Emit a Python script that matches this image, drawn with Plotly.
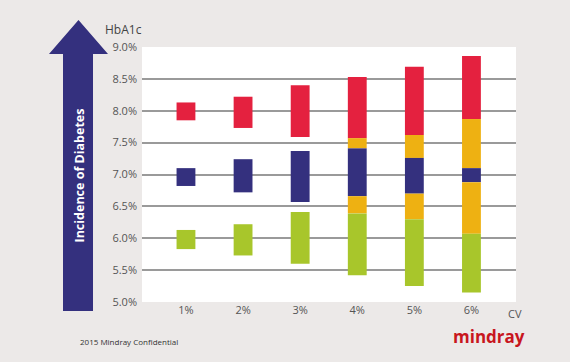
import plotly.graph_objects as go

categories = ["1%", "2%", "3%", "4%", "5%", "6%"]

red_low = [7.85, 7.73, 7.59, 7.57, 7.62, 7.87]
red_high = [8.13, 8.22, 8.40, 8.53, 8.69, 8.86]

yellow_up_low = [None, None, None, 7.41, 7.26, 7.10]
yellow_up_high = [None, None, None, 7.57, 7.62, 7.87]

navy_low = [6.82, 6.72, 6.57, 6.66, 6.70, 6.88]
navy_high = [7.10, 7.24, 7.37, 7.41, 7.26, 7.10]

yellow_lo_low = [None, None, None, 6.39, 6.30, 6.07]
yellow_lo_high = [None, None, None, 6.66, 6.70, 6.88]

green_low = [5.83, 5.73, 5.60, 5.42, 5.25, 5.15]
green_high = [6.13, 6.22, 6.41, 6.39, 6.30, 6.07]

y_ticks = [5.0, 5.5, 6.0, 6.5, 7.0, 7.5, 8.0, 8.5, 9.0]

RED = "#e4213f"
NAVY = "#34307e"
YELLOW = "#eeb112"
GREEN = "#a8c62b"
BG = "#ece9e8"

fig = go.Figure()

def add_range(low, high, color):
    length = [(h - l) if (h is not None and l is not None) else None for l, h in zip(low, high)]
    fig.add_trace(go.Bar(x=categories, y=length, base=low, marker=dict(color=color, line=dict(width=0)),
                         width=0.33, showlegend=False, hoverinfo="skip"))

add_range(red_low, red_high, RED)
add_range(yellow_up_low, yellow_up_high, YELLOW)
add_range(navy_low, navy_high, NAVY)
add_range(yellow_lo_low, yellow_lo_high, YELLOW)
add_range(green_low, green_high, GREEN)

# plot area in pixels: x 142..516, y 47..302
L, R, T, B = 142, 516, 47, 302
def px(x):
    return (x - L) / (R - L)
def py(y):
    return (B - y) / (B - T)

arrow_pts = [(78.5, 20), (108, 54), (93, 54), (93, 311), (63, 311), (63, 54), (49, 54)]
path = "M " + " L ".join(f"{px(a):.4f},{py(b):.4f}" for a, b in arrow_pts) + " Z"

def ann(text, x, y, size, color, xanchor="center", **kw):
    font = dict(family="Open Sans", size=size, color=color)
    font.update(kw.pop("font_extra", {}))
    return dict(text=text, xref="paper", yref="paper", x=px(x), y=py(y),
                xanchor=xanchor, yanchor="middle", showarrow=False, font=font, **kw)

fig.update_layout(
    width=570, height=362,
    margin=dict(l=L, r=570 - R, t=T, b=362 - B),
    paper_bgcolor=BG,
    plot_bgcolor="white",
    barmode="overlay",
    font=dict(family="Open Sans", color="#555555", size=11),
    xaxis=dict(
        type="category", range=[-0.77, 5.78], showgrid=False, zeroline=False,
        showline=False, ticks="", tickfont=dict(size=11, color="#555555"),
    ),
    yaxis=dict(
        range=[5.0, 9.0], tickvals=y_ticks, ticktext=[f"{v:.1f}%" for v in y_ticks],
        showgrid=True, gridcolor="#9a9a9a", gridwidth=1.6, zeroline=False, showline=False,
        ticks="", ticklabelstandoff=4, tickfont=dict(size=11, color="#555555"),
    ),
    shapes=[
        dict(type="path", xref="paper", yref="paper", path=path,
             fillcolor=NAVY, line=dict(width=0), layer="above"),
    ],
    annotations=[
        ann("Incidence of Diabetes", 78.5, 176, 12.5, "white", textangle=-90,
            font_extra=dict(weight="bold")),
        ann("HbA1c", 123, 29, 12, "#444444"),
        ann("CV", 515, 313, 11, "#555555"),
        ann("2015 Mindray Confidential", 78, 342, 8, "#333333", xanchor="left"),
        ann("mindray", 527, 336, 17, "#c8161e", xanchor="right", font_extra=dict(weight="bold")),
    ],
)

fig.write_html("out.html", config={"displayModeBar": False},
               post_script="document.body.style.margin='0';")
